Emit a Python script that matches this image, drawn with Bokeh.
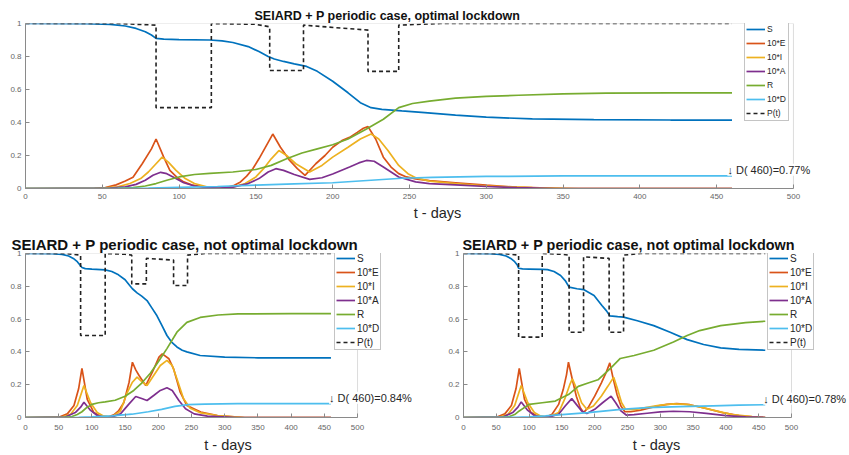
from bokeh.plotting import figure
from bokeh.layouts import column, row
from bokeh.models import Legend, LegendItem, Label, FixedTicker, Range1d, BoxAnnotation
from bokeh.embed import file_html
from bokeh.resources import INLINE

# ---------------- data: top panel (optimal lockdown) ----------------
opt_title = "SEIARD + P periodic case, optimal lockdown"
opt_S_t = [0, 40, 55, 65, 72, 78, 82, 85, 90, 100, 120, 128, 135, 145, 152, 158, 162, 168, 175, 183, 190, 200, 210, 218, 225, 232, 245, 260, 280, 300, 330, 370, 420, 460]
opt_S = [1.0, 0.999, 0.995, 0.985, 0.97, 0.95, 0.93, 0.91, 0.905, 0.902, 0.90, 0.895, 0.885, 0.86, 0.83, 0.80, 0.785, 0.77, 0.755, 0.74, 0.71, 0.65, 0.58, 0.52, 0.49, 0.48, 0.47, 0.46, 0.445, 0.432, 0.422, 0.417, 0.415, 0.415]
opt_E_t = [0, 45, 52, 59, 65, 70, 76, 82, 85, 90, 94, 99, 103, 109, 114, 124, 131, 136, 140, 144, 148, 152, 155, 158, 161, 166, 172, 177, 182, 189, 195, 200, 206, 211, 216, 220, 223, 228, 233, 238, 243, 248, 254, 263, 280, 300, 320, 350, 460]
opt_E = [0, 0.001, 0.006, 0.022, 0.045, 0.068, 0.15, 0.24, 0.30, 0.19, 0.11, 0.065, 0.04, 0.02, 0.012, 0.002, 0.005, 0.02, 0.04, 0.075, 0.12, 0.18, 0.23, 0.28, 0.33, 0.25, 0.17, 0.12, 0.08, 0.15, 0.2, 0.25, 0.29, 0.31, 0.34, 0.365, 0.375, 0.3, 0.19, 0.13, 0.09, 0.07, 0.058, 0.048, 0.035, 0.02, 0.008, 0.0, 0.0]
opt_I_t = [0, 50, 60, 68, 75, 80, 85, 89, 93, 98, 104, 110, 118, 126, 135, 143, 150, 155, 160, 165, 170, 176, 185, 193, 200, 210, 218, 225, 230, 236, 243, 249, 254, 263, 280, 300, 330, 360, 460]
opt_I = [0, 0.002, 0.01, 0.03, 0.06, 0.10, 0.15, 0.19, 0.16, 0.11, 0.06, 0.03, 0.01, 0.004, 0.008, 0.03, 0.07, 0.12, 0.18, 0.23, 0.20, 0.15, 0.10, 0.14, 0.19, 0.25, 0.30, 0.33, 0.30, 0.23, 0.14, 0.09, 0.065, 0.045, 0.03, 0.015, 0.005, 0.0, 0.0]
opt_A_t = [0, 55, 65, 72, 78, 83, 88, 92, 97, 103, 110, 118, 126, 135, 145, 152, 158, 163, 168, 175, 185, 193, 200, 211, 217, 222, 227, 233, 243, 254, 263, 280, 300, 320, 345, 460]
opt_A = [0, 0.002, 0.01, 0.025, 0.05, 0.08, 0.098, 0.09, 0.065, 0.035, 0.015, 0.005, 0.002, 0.008, 0.03, 0.06, 0.10, 0.12, 0.11, 0.085, 0.055, 0.065, 0.088, 0.13, 0.155, 0.17, 0.165, 0.13, 0.07, 0.04, 0.03, 0.022, 0.012, 0.005, 0.0, 0.0]
opt_R_t = [0, 60, 70, 78, 85, 92, 100, 110, 120, 135, 150, 160, 170, 180, 190, 200, 210, 222, 233, 243, 252, 263, 280, 300, 321, 350, 378, 420, 460]
opt_R = [0, 0.001, 0.005, 0.015, 0.03, 0.05, 0.07, 0.085, 0.092, 0.10, 0.115, 0.14, 0.18, 0.215, 0.24, 0.265, 0.30, 0.36, 0.42, 0.49, 0.515, 0.53, 0.548, 0.558, 0.565, 0.573, 0.578, 0.58, 0.58]
opt_D_t = [0, 60, 80, 100, 125, 150, 175, 200, 225, 245, 265, 300, 350, 460]
opt_D = [0, 0.001, 0.003, 0.007, 0.012, 0.02, 0.028, 0.035, 0.05, 0.062, 0.068, 0.073, 0.076, 0.077]
opt_P_t = [0, 60, 85, 85, 121, 121, 150, 159, 159, 181, 181, 223, 223, 243, 243, 270, 460]
opt_P = [1.0, 1.0, 0.99, 0.49, 0.49, 1.0, 0.995, 0.98, 0.715, 0.715, 0.99, 0.96, 0.71, 0.71, 0.99, 1.0, 1.0]
opt_note = "\u2193 D( 460)=0.77%"

# ---------------- data: bottom-left panel (not optimal) ----------------
nl_title = "SEIARD + P periodic case, not optimal lockdown"
nl_S_t = [0, 40, 55, 65, 72, 78, 82, 85, 90, 100, 120, 130, 140, 150, 156, 161, 168, 175, 183, 190, 198, 205, 213, 220, 228, 236, 243, 263, 300, 350, 460]
nl_S = [1.0, 0.999, 0.995, 0.985, 0.97, 0.95, 0.93, 0.915, 0.908, 0.905, 0.90, 0.89, 0.87, 0.84, 0.81, 0.785, 0.76, 0.74, 0.713, 0.67, 0.62, 0.565, 0.50, 0.46, 0.43, 0.41, 0.40, 0.378, 0.368, 0.364, 0.364]
nl_E_t = [0, 50, 63, 73, 80, 85, 93, 103, 113, 125, 133, 140, 148, 156, 161, 166, 171, 181, 191, 201, 206, 216, 223, 233, 243, 264, 289, 314, 330, 460]
nl_E = [0, 0.002, 0.022, 0.073, 0.175, 0.30, 0.11, 0.03, 0.008, 0.004, 0.016, 0.04, 0.09, 0.215, 0.337, 0.29, 0.256, 0.195, 0.276, 0.368, 0.388, 0.358, 0.297, 0.154, 0.073, 0.033, 0.012, 0.004, 0.0, 0.0]
nl_I_t = [0, 55, 68, 78, 88, 98, 108, 118, 130, 143, 153, 161, 168, 176, 183, 193, 203, 213, 221, 228, 238, 248, 264, 289, 330, 460]
nl_I = [0, 0.002, 0.02, 0.073, 0.195, 0.09, 0.03, 0.008, 0.004, 0.04, 0.15, 0.215, 0.246, 0.215, 0.195, 0.256, 0.317, 0.348, 0.317, 0.236, 0.114, 0.057, 0.028, 0.012, 0.0, 0.0]
nl_A_t = [0, 60, 75, 83, 88, 98, 108, 118, 130, 143, 156, 166, 176, 183, 193, 203, 213, 221, 231, 241, 254, 274, 320, 460]
nl_A = [0, 0.003, 0.03, 0.063, 0.093, 0.043, 0.012, 0.002, 0.003, 0.022, 0.083, 0.128, 0.114, 0.104, 0.134, 0.165, 0.181, 0.165, 0.104, 0.053, 0.022, 0.008, 0.0, 0.0]
nl_R_t = [0, 60, 70, 78, 85, 92, 100, 110, 120, 135, 150, 163, 175, 188, 200, 213, 228, 243, 263, 290, 320, 400, 460]
nl_R = [0, 0.001, 0.006, 0.018, 0.035, 0.06, 0.08, 0.09, 0.095, 0.105, 0.13, 0.165, 0.21, 0.27, 0.34, 0.42, 0.52, 0.58, 0.61, 0.625, 0.632, 0.633, 0.633]
nl_D_t = [0, 80, 100, 130, 160, 185, 205, 225, 245, 270, 320, 460]
nl_D = [0, 0.001, 0.004, 0.01, 0.02, 0.035, 0.05, 0.068, 0.078, 0.082, 0.084, 0.084]
nl_P_t = [0, 60, 83, 83, 120, 120, 150, 160, 160, 182, 182, 223, 223, 244, 244, 270, 460]
nl_P = [1.0, 1.0, 0.99, 0.5, 0.5, 1.0, 0.995, 0.99, 0.815, 0.815, 0.97, 0.96, 0.805, 0.805, 0.99, 1.0, 1.0]
nl_note = "\u2193 D( 460)=0.84%"

# ---------------- data: bottom-right panel (not optimal) ----------------
nr_title = "SEIARD + P periodic case, not optimal lockdown"
nr_S_t = [0, 40, 55, 65, 72, 78, 82, 84, 90, 100, 120, 128, 138, 148, 155, 161, 173, 183, 199, 211, 218, 223, 235, 244, 265, 290, 315, 341, 366, 392, 420, 460]
nr_S = [1.0, 0.999, 0.995, 0.985, 0.97, 0.95, 0.93, 0.91, 0.906, 0.905, 0.903, 0.902, 0.89, 0.866, 0.835, 0.795, 0.785, 0.78, 0.744, 0.683, 0.65, 0.62, 0.615, 0.612, 0.59, 0.56, 0.52, 0.475, 0.445, 0.425, 0.415, 0.41]
nr_E_t = [0, 50, 63, 73, 80, 85, 93, 103, 113, 125, 135, 145, 152, 157, 160, 166, 172, 178, 183, 190, 200, 210, 218, 223, 228, 234, 240, 246, 255, 270, 290, 310, 325, 345, 370, 395, 420, 445, 460]
nr_E = [0, 0.002, 0.022, 0.073, 0.175, 0.30, 0.11, 0.03, 0.008, 0.002, 0.02, 0.08, 0.17, 0.26, 0.337, 0.23, 0.13, 0.06, 0.03, 0.06, 0.13, 0.21, 0.28, 0.333, 0.24, 0.14, 0.07, 0.035, 0.035, 0.045, 0.065, 0.08, 0.085, 0.078, 0.055, 0.03, 0.012, 0.003, 0.0]
nr_I_t = [0, 55, 68, 78, 88, 98, 108, 118, 130, 145, 155, 162, 166, 172, 180, 188, 198, 210, 220, 229, 235, 241, 247, 260, 280, 300, 320, 340, 360, 385, 410, 440, 460]
nr_I = [0, 0.002, 0.02, 0.073, 0.195, 0.09, 0.03, 0.008, 0.003, 0.03, 0.12, 0.2, 0.236, 0.18, 0.09, 0.05, 0.07, 0.13, 0.19, 0.246, 0.17, 0.09, 0.05, 0.048, 0.062, 0.075, 0.083, 0.08, 0.065, 0.04, 0.018, 0.005, 0.0]
nr_A_t = [0, 60, 75, 83, 88, 98, 108, 118, 130, 145, 155, 165, 172, 180, 188, 200, 212, 225, 232, 240, 248, 260, 280, 300, 320, 345, 370, 400, 430, 460]
nr_A = [0, 0.003, 0.03, 0.063, 0.095, 0.043, 0.012, 0.002, 0.002, 0.02, 0.07, 0.115, 0.08, 0.04, 0.025, 0.05, 0.09, 0.13, 0.09, 0.04, 0.015, 0.018, 0.026, 0.034, 0.038, 0.035, 0.025, 0.012, 0.004, 0.0]
nr_R_t = [0, 60, 70, 78, 85, 100, 120, 140, 160, 175, 190, 205, 224, 239, 260, 290, 320, 341, 360, 392, 430, 460]
nr_R = [0, 0.001, 0.006, 0.018, 0.04, 0.08, 0.09, 0.10, 0.14, 0.19, 0.21, 0.23, 0.30, 0.36, 0.378, 0.41, 0.46, 0.50, 0.53, 0.56, 0.578, 0.587]
nr_D_t = [0, 80, 100, 125, 150, 190, 240, 280, 330, 380, 420, 460]
nr_D = [0, 0.001, 0.004, 0.01, 0.018, 0.03, 0.05, 0.06, 0.066, 0.071, 0.075, 0.078]
nr_P_t = [0, 60, 84, 84, 120, 120, 150, 161, 161, 183, 183, 222, 222, 244, 244, 270, 460]
nr_P = [1.0, 1.0, 0.99, 0.49, 0.49, 1.0, 0.995, 0.99, 0.52, 0.52, 0.98, 0.97, 0.52, 0.52, 0.99, 1.0, 1.0]
nr_note = "\u2193 D( 460)=0.78%"

series_names = ["S", "10*E", "10*I", "10*A", "R", "10*D", "P(t)"]
series_colors = ["#0072BD", "#D95319", "#EDB120", "#7E2F8E", "#77AC30", "#4DBEEE", "#222222"]
x_ticks = [0, 50, 100, 150, 200, 250, 300, 350, 400, 450, 500]
y_ticks = [0, 0.2, 0.4, 0.6, 0.8, 1.0]
y_tick_labels = ["0", "0.2", "0.4", "0.6", "0.8", "1"]
x_axis_end = 500

FONT = "Liberation Sans"
AX = "#8a8a8a"


def panel(title, title_size, title_offset, width, height, bl, bt, bb, x_view_end,
          data, note, note_y, leg_loc, leg_font, tick_standoff, label_standoff):
    p = figure(width=width, height=height, output_backend="svg", toolbar_location=None,
               x_range=Range1d(0, x_view_end), y_range=Range1d(0, 1),
               min_border_left=bl, min_border_right=0, min_border_top=bt, min_border_bottom=bb)
    p.title.text = title
    p.title.text_font = FONT
    p.title.text_font_size = title_size
    p.title.text_font_style = "bold"
    p.title.text_color = "#111111"
    p.title.align = "left"
    p.title.offset = title_offset
    p.title.standoff = 2
    p.xgrid.visible = False
    p.ygrid.visible = False
    p.outline_line_color = None
    p.background_fill_color = "white"
    p.border_fill_color = "white"
    for ax in (p.xaxis[0], p.yaxis[0]):
        ax.axis_line_color = AX
        ax.major_tick_line_color = AX
        ax.major_tick_in = 4
        ax.major_tick_out = 0
        ax.minor_tick_line_color = None
        ax.major_label_text_font = FONT
        ax.major_label_text_font_size = "8px"
        ax.major_label_text_color = "#666666"
        ax.major_label_standoff = 4
    p.xaxis.major_label_standoff = tick_standoff
    p.xaxis.bounds = (0, x_axis_end)
    p.xaxis.ticker = FixedTicker(ticks=x_ticks)
    p.yaxis.ticker = FixedTicker(ticks=y_ticks)
    p.yaxis.major_label_overrides = {t: l for t, l in zip(y_ticks, y_tick_labels)}
    p.xaxis.axis_label = "t - days"
    p.xaxis.axis_label_text_font = FONT
    p.xaxis.axis_label_text_font_size = "14.5px"
    p.xaxis.axis_label_text_font_style = "normal"
    p.xaxis.axis_label_text_color = "#262626"
    p.xaxis.axis_label_standoff = label_standoff

    # axes box
    p.add_layout(BoxAnnotation(left=0, right=x_axis_end, bottom=0, top=1,
                               fill_alpha=0, line_color=AX, line_width=1))

    items = []
    for (tt, vv), name, col in zip(data, series_names, series_colors):
        if name == "P(t)":
            r = p.line(tt, vv, line_color=col, line_width=1.6, line_dash="4 3")
        else:
            r = p.line(tt, vv, line_color=col, line_width=1.7)
        items.append(LegendItem(label=name, renderers=[r]))
    leg = Legend(items=items, location=leg_loc)
    leg.label_text_font = FONT
    leg.label_text_font_size = leg_font
    leg.label_text_color = "#262626"
    leg.label_height = 12
    leg.glyph_height = 12
    leg.glyph_width = 19
    leg.label_standoff = 2
    leg.spacing = 2
    leg.padding = 1
    leg.margin = 0
    leg.border_line_color = AX
    leg.background_fill_alpha = 1.0
    p.add_layout(leg, "center")

    p.add_layout(Label(x=457, y=note_y, text=note, text_font=FONT, text_font_size="11px",
                       text_color="#262626", text_baseline="bottom",
                       background_fill_color="white"))
    return p


top = panel(opt_title, "12.5px", 229, 849, 225, 25, 23, 37, 536.5,
            [(opt_S_t, opt_S), (opt_E_t, opt_E), (opt_I_t, opt_I), (opt_A_t, opt_A),
             (opt_R_t, opt_R), (opt_D_t, opt_D), (opt_P_t, opt_P)],
            opt_note, opt_D[-1], (719, 67), "8.5px", 5, 3)
bl = panel(nl_title, "15px", -14, 430, 230, 25, 28, 38, 609.9,
           [(nl_S_t, nl_S), (nl_E_t, nl_E), (nl_I_t, nl_I), (nl_A_t, nl_A),
            (nl_R_t, nl_R), (nl_D_t, nl_D), (nl_P_t, nl_P)],
           nl_note, nl_D[-1], (309, 67), "10px", 7, 4)
br = panel(nr_title, "14.4px", -1, 419, 230, 33, 28, 38, 588.4,
           [(nr_S_t, nr_S), (nr_E_t, nr_E), (nr_I_t, nr_I), (nr_A_t, nr_A),
            (nr_R_t, nr_R), (nr_D_t, nr_D), (nr_P_t, nr_P)],
           nr_note, nr_D[-1], (304, 67), "10px", 7, 4)

layout = column(top, row(bl, br))
open("out.html", "w").write(file_html(layout, INLINE))
